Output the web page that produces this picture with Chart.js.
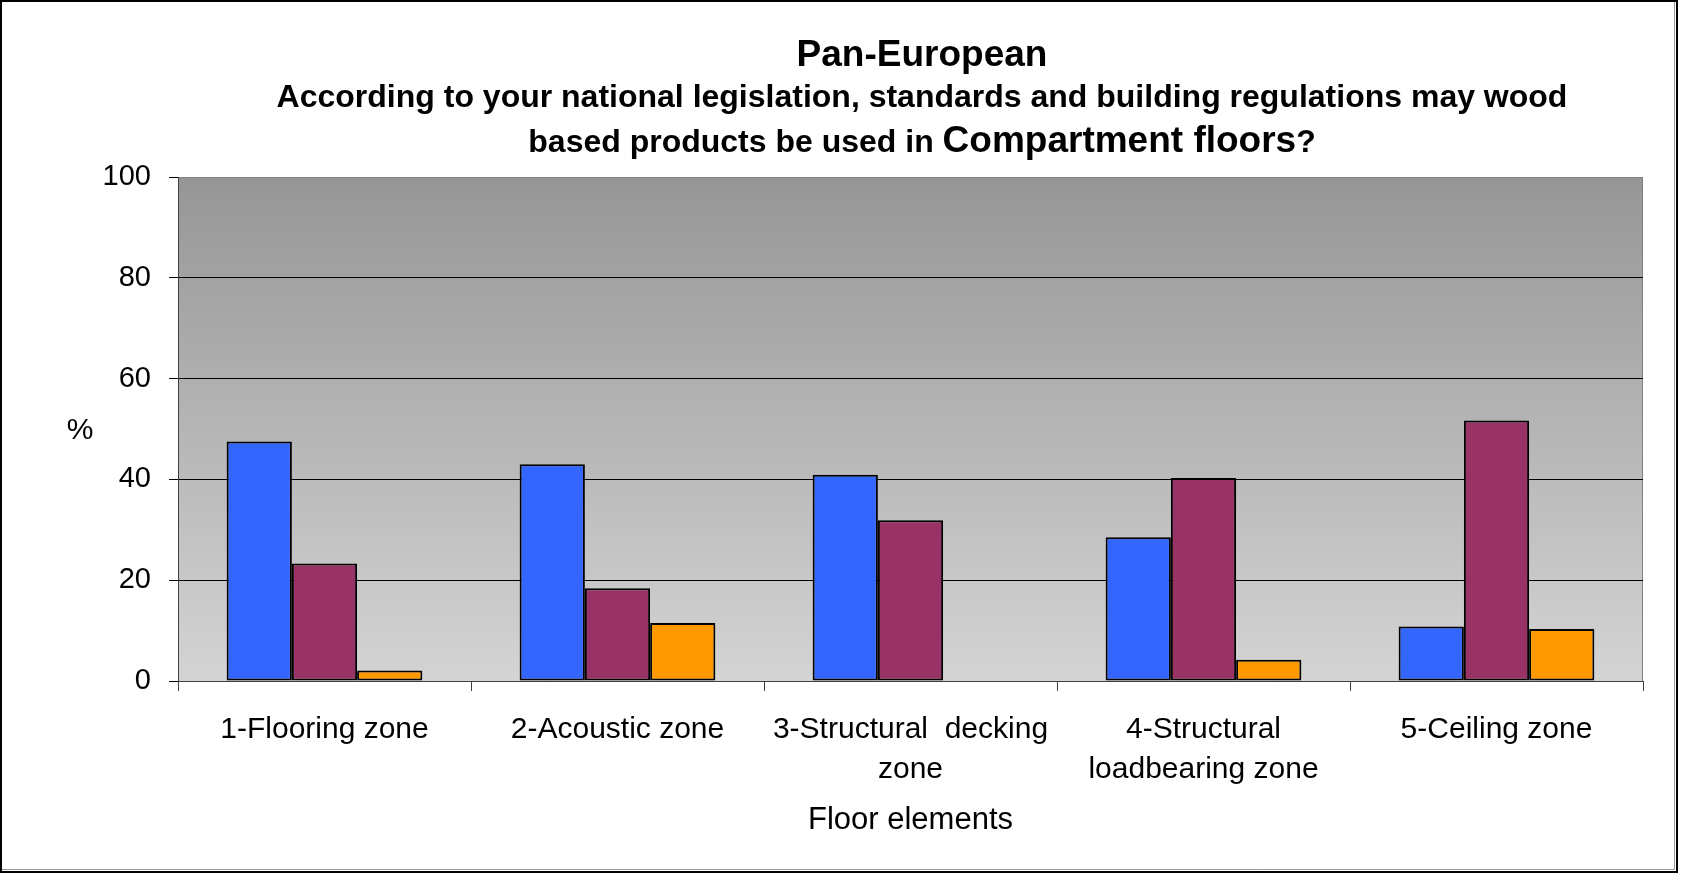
<!DOCTYPE html>
<html>
<head>
<meta charset="utf-8">
<script src="https://cdn.jsdelivr.net/npm/chart.js@4.4.1/dist/chart.umd.min.js"></script>
<style>
  body { margin: 0; background: #fff; }
  canvas { display: block; }
</style>
</head>
<body>
<canvas id="grafico" width="1686" height="874"></canvas>
<script>
  // datos
  var categorias = [
    '1-Flooring zone',
    '2-Acoustic zone',
    ['3-Structural  decking', 'zone'],
    ['4-Structural', 'loadbearing zone'],
    '5-Ceiling zone'
  ];
  var serieAzul = [47.5, 43.0, 40.9, 28.5, 10.8];
  var serieGranate = [23.3, 18.4, 31.9, 40.3, 51.7];
  var serieNaranja = [2.1, 11.5, 0, 4.2, 10.3];
  var ticksY = [0, 20, 40, 60, 80, 100];

  var titulo = 'Pan-European';
  var subtitulo = 'According to your national legislation, standards and building regulations may wood';
  var linea3 = ['based products be used in ', 'Compartment floors', '?'];
  var tituloEjeX = 'Floor elements';
  var tituloEjeY = '%';

  var fuente = "'Liberation Sans', Arial, sans-serif";

  var fondoPlot = {
    id: 'fondoPlot',
    beforeDraw: function (chart) {
      var a = chart.chartArea;
      var ctx = chart.ctx;
      var g = ctx.createLinearGradient(0, a.top, 0, a.bottom);
      g.addColorStop(0, '#969696');
      g.addColorStop(1, '#d4d4d4');
      ctx.save();
      ctx.fillStyle = g;
      ctx.fillRect(a.left, a.top, a.right - a.left, a.bottom - a.top);
      ctx.strokeStyle = '#808080';
      ctx.lineWidth = 1;
      ctx.strokeRect(a.left + 0.5, a.top + 0.5, a.right - a.left - 1, a.bottom - a.top);
      ctx.restore();
    }
  };

  var textos = {
    id: 'textos',
    afterDraw: function (chart) {
      var ctx = chart.ctx;
      var cx = 922;
      ctx.save();
      ctx.fillStyle = '#000';
      ctx.textBaseline = 'alphabetic';
      ctx.textAlign = 'center';

      ctx.font = 'bold 37px ' + fuente;
      ctx.fillText(titulo, cx, 66);

      ctx.font = 'bold 32px ' + fuente;
      ctx.fillText(subtitulo, cx, 107);

      // tercera linea con "Compartment floors" mas grande
      var f1 = 'bold 32px ' + fuente, f2 = 'bold 37px ' + fuente;
      ctx.font = f1;
      var w1 = ctx.measureText(linea3[0]).width;
      var w3 = ctx.measureText(linea3[2]).width;
      ctx.font = f2;
      var w2 = ctx.measureText(linea3[1]).width;
      var x = cx - (w1 + w2 + w3) / 2;
      ctx.textAlign = 'left';
      ctx.font = f1;
      ctx.fillText(linea3[0], x, 152);
      ctx.font = f2;
      ctx.fillText(linea3[1], x + w1, 152);
      ctx.font = f1;
      ctx.fillText(linea3[2], x + w1 + w2, 152);

      // % del eje y, sin rotar
      ctx.textAlign = 'center';
      ctx.textBaseline = 'middle';
      ctx.font = '30px ' + fuente;
      ctx.fillText(tituloEjeY, 80, 431);

      // marco
      ctx.strokeStyle = '#000';
      ctx.lineWidth = 2;
      ctx.strokeRect(1, 1, 1676, 871);
      ctx.strokeStyle = '#999';
      ctx.lineWidth = 1;
      ctx.beginPath();
      ctx.moveTo(1674.5, 2);
      ctx.lineTo(1674.5, 869.5);
      ctx.lineTo(2, 869.5);
      ctx.stroke();
      ctx.restore();
    }
  };

  var ctx = document.getElementById('grafico');
  var grafico = new Chart(ctx, {
    type: 'bar',
    data: {
      labels: categorias,
      datasets: [
        { data: serieAzul, backgroundColor: '#3366ff' },
        { data: serieGranate, backgroundColor: '#993366' },
        { data: serieNaranja, backgroundColor: '#ff9900' }
      ]
    },
    options: {
      responsive: false,
      animation: false,
      layout: {
        padding: { top: 177, right: 43, bottom: 0, left: 0 }
      },
      datasets: {
        bar: {
          categoryPercentage: 0.668,
          barPercentage: 1.0,
          borderColor: '#000',
          borderWidth: 2,
          borderSkipped: false
        }
      },
      plugins: {
        legend: false,
        tooltip: { enabled: false },
        title: { display: false }
      },
      scales: {
        x: {
          grid: {
            drawOnChartArea: false,
            drawTicks: true,
            tickLength: 10,
            color: '#404040'
          },
          border: { color: '#404040', width: 1 },
          ticks: {
            color: '#000',
            padding: 18,
            maxRotation: 0,
            font: { family: fuente, size: 30, lineHeight: 1.35 }
          },
          title: {
            display: true,
            text: tituloEjeX,
            color: '#000',
            padding: { top: 0, bottom: 35 },
            font: { family: fuente, size: 31, lineHeight: 1.2 }
          },
          afterFit: function (scale) { scale.height = 193; }
        },
        y: {
          min: 0,
          max: 100,
          afterBuildTicks: function (scale) {
            scale.ticks = ticksY.map(function (v) { return { value: v }; });
          },
          grid: {
            color: function (c) { return c.tick && c.tick.value === 100 ? '#808080' : '#000'; },
            tickColor: '#000',
            tickLength: 9,
            lineWidth: 1
          },
          border: { color: '#404040', width: 1 },
          ticks: {
            color: '#000',
            padding: 18,
            font: { family: fuente, size: 29 }
          },
          afterFit: function (scale) { scale.width = 178; }
        }
      }
    },
    plugins: [fondoPlot, textos]
  });
</script>
</body>
</html>
